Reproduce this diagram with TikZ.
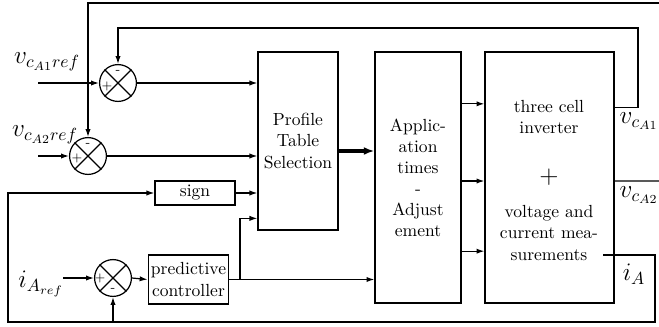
\documentclass[tikz,border=0pt]{standalone}
\usetikzlibrary{arrows.meta}
\tikzset{
  blk/.style={draw, line width=0.7pt, align=center, inner sep=1pt},
  sumj/.style={draw, circle, line width=0.7pt, minimum size=21pt, inner sep=0pt},
  sgn/.style={font=\scriptsize, inner sep=0pt},
  arr/.style={-{Latex[length=4.5pt,width=3pt]}, line width=0.7pt},
  wire/.style={line width=0.7pt}
}
\begin{document}
\begin{tikzpicture}[x=0.57pt, y=-0.57pt]
    \useasboundingbox (0,0) rectangle (659,326);

    % Blocks
    \node[blk, minimum width=45.6pt, minimum height=101.5pt] (prof) at (298,141) {Profile\\Table\\Selection};
    \node[blk, minimum width=49pt, minimum height=143pt] (appl) at (418,177.5) {Applic-\\ation\\times\\-\\Adjust\\ement};
    \node[blk, minimum width=73.5pt, minimum height=143pt] (inv) at (549.5,177.5) {};
    \node[align=center] (invtxt) at (549,117) {three cell\\inverter};
    \node[font=\Large] (plus) at (549,177) {$+$};
    \node[align=center] (meastxt) at (549,233) {voltage and\\current mea-\\surements};
    \node[blk, minimum width=45.6pt, minimum height=13.7pt] (sign) at (195,193) {sign};
    \node[blk, minimum width=46pt, minimum height=28pt] (pred) at (188.5,279.5) {predictive\\controller};

    % Summing junctions
    \node[sumj] (s1) at (118,83) {};
    \node[sumj] (s2) at (88,156) {};
    \node[sumj] (s3) at (113,278) {};
    \foreach \s in {s1,s2,s3}
        \draw[wire] (\s.north west) -- (\s.south east) (\s.north east) -- (\s.south west);
    \node[sgn] at ([shift={(-11,3)}]s1.center) {$+$};
    \node[sgn] at ([shift={(0,-11)}]s1.center) {-};
    \node[sgn] at ([shift={(-11,2)}]s2.center) {$+$};
    \node[sgn] at ([shift={(0,-11)}]s2.center) {-};
    \node[sgn] at ([shift={(-13,0)}]s3.center) {$+$};
    \node[sgn] at ([shift={(0,12)}]s3.center) {-};

    % Inputs and labels
    \coordinate (in1) at (38,83);
    \coordinate (in2) at (38,156);
    \coordinate (in3) at (63,278);
    \node[font=\Large] (l1) at (47,62) {$v_{c_{A1}ref}$};
    \node[font=\Large] (l2) at (45,135) {$v_{c_{A2}ref}$};
    \node[font=\Large] (l3) at (41,284) {$i_{A_{ref}}$};
    \node[font=\Large] (l4) at (639,121) {$v_{c_{A1}}$};
    \node[font=\Large] (l5) at (639,195) {$v_{c_{A2}}$};
    \node[font=\Large] (l6) at (634,274) {$i_A$};

    % Feedback corners
    \coordinate (fb1) at (638,28);
    \coordinate (fb2) at (659,3);
    \coordinate (out2) at (659,181);
    \coordinate (meas) at (603,255);
    \coordinate (fb3) at (655,322);
    \coordinate (fb4) at (8,322);
    \coordinate (br) at (240,279.5);

    % Connectors
    \draw[arr] (in1) -- (s1.west);
    \draw[arr] (in2) -- (s2.west);
    \draw[arr] (in3) -- (s3.west);
    \draw[arr] (fb2) -| (s2.north);
    \draw[arr] ([yshift=40pt]inv.east) -| (fb1) -| (s1.north);
    \draw[wire] ([yshift=-2pt]inv.east) -- (out2);
    \draw[arr] (s1.east) -- (s1.east -| prof.west);
    \draw[arr] (s2.east) -- (s2.east -| prof.west);
    \draw[arr] (sign.east) -- (sign.east -| prof.west);
    \draw[arr] (s3.east) -- (pred.west);
    \draw[arr] (pred.east) -- (pred.east -| appl.west);
    \draw[arr] (br) |- ([yshift=7pt]prof.south west);
    \draw[-{Latex[length=6pt,width=4.5pt]}, line width=2pt] ([yshift=-5.7pt]prof.east) -- ([yshift=-5.7pt]prof.east -| appl.west);
    \foreach \dy in {42pt,-2pt,-42pt}
        \draw[arr] ([yshift=\dy]appl.east) -- ([yshift=\dy]inv.west);
    \draw[arr] (meas) -| (fb3) -- (fb4) |- (sign.west);
    \draw[arr] (s3.south |- fb4) -- (s3.south);
\end{tikzpicture}
\end{document}
